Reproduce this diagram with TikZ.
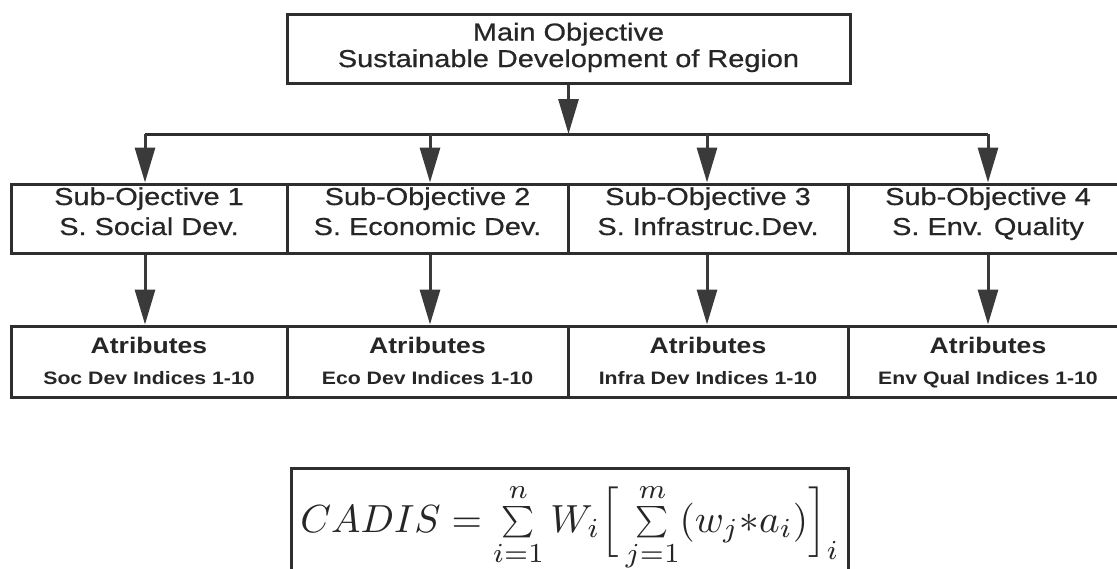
\documentclass[tikz,border=0pt]{standalone}
\usepackage{graphicx}
\usepackage[no-math]{fontspec}
\setmainfont{Liberation Sans}[FakeStretch=1.18]
\newfontfamily\medsans{Liberation Sans}[FakeStretch=1.18, FakeBold=0.6]
\usetikzlibrary{arrows.meta}
\definecolor{linec}{HTML}{2E2E2E}
\definecolor{arrc}{HTML}{3A3A3A}
\definecolor{textc}{HTML}{262626}
% smaller summation sign with limits
\newcommand{\csum}{\mathop{\vcenter{\hbox{\scalebox{0.8}{$\textstyle\sum$}}}}}
\begin{document}
\begin{tikzpicture}[x=1pt,y=-1pt,
  box/.style={draw=linec, line width=3pt, rectangle, inner sep=0pt, align=center, text=textc},
  mainbox/.style={box, minimum width=563pt, minimum height=69pt,
    font=\medsans\fontsize{24.5}{26.5}\selectfont},
  subbox/.style={box, minimum height=69pt, text height=51pt, text depth=18pt,
    font=\medsans\fontsize{24.5}{30}\selectfont},
  attrbox/.style={box, minimum height=71pt, text height=58.5pt, text depth=12.5pt,
    font=\fontsize{18}{31}\selectfont\bfseries},
  arr/.style={draw=arrc, line width=3pt, -{Triangle[length=35pt,width=20pt]}},
  busline/.style={draw=linec, line width=3pt},
  fbox/.style={draw=linec, line width=3pt}
]
\useasboundingbox (0,0) rectangle (1117,568);
\fill[white] (0,0) rectangle (1117,568);
\clip (0,0) rectangle (1117,568);

% main objective
\node[mainbox] (main) at (568.5,48.5) {\strut Main Objective\\\strut Sustainable Development of Region};

% sub-objectives
\node[subbox, minimum width=276pt] (sub1) at (149,218.5) {Sub-Ojective 1\\S. Social Dev.};
\node[subbox, minimum width=281pt] (sub2) at (427.5,218.5) {Sub-Objective 2\\S. Economic Dev.};
\node[subbox, minimum width=280pt] (sub3) at (708,218.5) {Sub-Objective 3\\S. Infrastruc.Dev.};
\node[subbox, minimum width=280pt] (sub4) at (988,218.5) {Sub-Objective 4\\S. Env. Quality};

% attributes
\node[attrbox, minimum width=276pt] (att1) at (149,361.5) {{\fontsize{22.5}{31}\selectfont Atributes}\\Soc Dev Indices 1-10};
\node[attrbox, minimum width=281pt] (att2) at (427.5,361.5) {{\fontsize{22.5}{31}\selectfont Atributes}\\Eco Dev Indices 1-10};
\node[attrbox, minimum width=280pt] (att3) at (708,361.5) {{\fontsize{22.5}{31}\selectfont Atributes}\\Infra Dev Indices 1-10};
\node[attrbox, minimum width=280pt] (att4) at (988,361.5) {{\fontsize{22.5}{31}\selectfont Atributes}\\Env Qual Indices 1-10};

% distribution bus
\coordinate (hub) at (main.south |- 0,134);
\coordinate (c1) at (145,134);
\coordinate (c2) at (430,134);
\coordinate (c3) at (707,134);
\coordinate (c4) at (988,134);
\draw[busline] (c1) -- (c4);
\draw[arr] (main.south) -- (hub);
\foreach \k in {1,2,3,4}{
  \draw[arr] (c\k) -- (sub\k.north -| c\k);
  \draw[arr] (sub\k.south -| c\k) -- (att\k.north -| c\k);
}

% aggregate index
\draw[fbox] (291,468) rectangle (848,620);
\node[anchor=base, inner sep=0pt, text=textc] (cadis) at (570,532)
  {\scalebox{3.92}{$CADIS = \csum\limits_{i=1}^{n} W_i \Big[\csum\limits_{j=1}^{m} (w_j{\ast}a_i)\Big]_i$}};
\end{tikzpicture}
\end{document}
